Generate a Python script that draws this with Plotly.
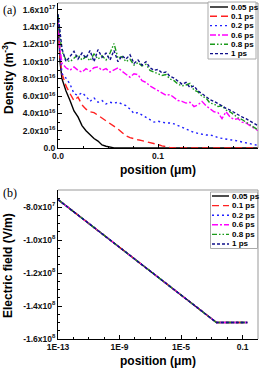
import plotly.graph_objects as go

W, H = 263, 368

# ---------------- data ----------------
series_names = ["0.05 ps", "0.1 ps", "0.2 ps", "0.6 ps", "0.8 ps", "1 ps"]
series_colors = ["#000000", "#ff2020", "#2020ff", "#ff00ff", "#1a9a1a", "#10108a"]
series_dashes = ["solid", "7px,4px", "2px,3px", "6px,2px,2px,2px",
                 "5px,2px,1.5px,2px,1.5px,2px", "3px,2px"]

# panel (a): position (um) and density (units of 1e16 m^-3)
position_a = [0, 0.001, 0.002, 0.004, 0.008, 0.012, 0.016, 0.020, 0.024, 0.028,
              0.032, 0.036, 0.040, 0.044, 0.048, 0.052, 0.056, 0.060, 0.064, 0.068,
              0.072, 0.076, 0.080, 0.084, 0.088, 0.092, 0.096, 0.100, 0.104, 0.108,
              0.112, 0.116, 0.120, 0.124, 0.128, 0.132, 0.136, 0.140, 0.144, 0.148,
              0.152, 0.156, 0.160, 0.164, 0.168, 0.172, 0.176, 0.180, 0.184, 0.188,
              0.192, 0.196, 0.200]

dens_005 = [15.0, 12.0, 10.0, 8.0, 6.6, 5.5, 4.3, 3.6, 2.6, 2.0,
            1.5, 1.1, 0.8, 0.35, 0.2, 0.08, 0.02, 0, 0, 0,
            0, 0, 0, 0, 0, 0, 0, 0, 0, 0,
            0, 0, 0, 0, 0, 0, 0, 0, 0, 0,
            0, 0, 0, 0, 0, 0, 0, 0, 0, 0,
            0, 0, 0]
dens_01 = [15.0, 12.5, 10.5, 8.6, 7.2, 6.3, 5.5, 5.9, 5.0, 4.5,
           4.2, 4.1, 3.8, 3.4, 3.1, 2.8, 2.5, 2.2, 1.8, 1.4,
           1.2, 1.05, 0.95, 0.85, 0.75, 0.6, 0.5, 0.4, 0.25, 0.12,
           0.06, 0.02, 0, 0, 0, 0, 0, 0, 0, 0,
           0, 0, 0, 0, 0, 0, 0, 0, 0, 0,
           0, 0, 0]
dens_02 = [15.0, 12.5, 10.8, 8.6, 8.1, 7.4, 6.3, 6.1, 6.4, 6.0,
           5.4, 5.8, 5.3, 5.5, 5.1, 5.3, 5.2, 5.3, 5.1, 4.9,
           4.5, 4.0, 4.1, 3.8, 3.6, 3.3, 3.0, 3.1, 3.0, 2.9,
           2.9, 2.8, 2.6, 2.4, 2.2, 2.0, 1.8, 1.7, 1.6, 1.5,
           1.5, 1.4, 1.2, 1.1, 1.0, 0.95, 0.9, 0.8, 0.65, 0.55,
           0.5, 0.4, 0.3]
dens_06 = [15.0, 13.5, 11.5, 9.8, 9.3, 9.0, 9.4, 9.0, 8.8, 9.2,
           8.9, 9.3, 9.4, 9.0, 9.2, 8.8, 9.1, 9.3, 8.9, 8.6,
           8.2, 8.6, 8.5, 7.8, 7.6, 7.2, 6.9, 6.7, 6.4, 6.1,
           6.2, 5.8, 5.5, 5.4, 5.2, 5.3, 4.8, 5.0, 5.4, 4.9,
           4.5, 4.2, 4.1, 3.4, 4.2, 3.6, 3.3, 3.4, 3.0, 2.9,
           2.6, 2.3, 2.0]
dens_08 = [15.5, 14.0, 12.8, 11.2, 10.2, 10.0, 10.4, 10.8, 10.2, 10.6,
           10.1, 10.9, 10.3, 10.7, 10.2, 11.0, 12.1, 10.4, 10.6, 10.0,
           10.3, 9.6, 9.9, 9.5, 9.7, 9.0, 8.8, 8.6, 8.4, 8.5,
           8.0, 7.8, 7.4, 7.2, 7.3, 7.5, 6.7, 6.5, 6.0, 5.8,
           5.2, 5.1, 4.8, 4.9, 4.4, 4.2, 3.8, 3.5, 3.3, 3.0,
           2.8, 2.4, 2.1]
dens_1 = [15.5, 14.5, 13.0, 11.5, 10.0, 10.6, 11.2, 10.3, 11.0, 10.4,
          11.3, 10.0, 11.4, 10.5, 11.0, 10.2, 11.3, 10.0, 10.7, 10.3,
          10.8, 9.8, 10.2, 9.6, 10.0, 9.3, 9.0, 9.1, 8.7, 8.8,
          8.3, 8.1, 7.8, 7.4, 7.6, 7.0, 7.2, 6.6, 6.3, 5.9,
          5.6, 5.4, 5.1, 4.9, 4.6, 4.4, 4.1, 3.9, 3.6, 3.4,
          3.1, 2.8, 2.6]
density_series = [dens_005, dens_01, dens_02, dens_06, dens_08, dens_1]
density_unit = 1e16

# panel (b): electric field vs position (log axis)
position_b = [1e-13, 2e-3, 0.2]
efield_b = [-7.55e7, -1.5e8, -1.5e8]

# tick labels
ya_vals = [0, 2e16, 4e16, 6e16, 8e16, 1e17, 1.2e17, 1.4e17, 1.6e17]
ya_text = ["0.0", "2.0x10<sup>16</sup>", "4.0x10<sup>16</sup>", "6.0x10<sup>16</sup>",
           "8.0x10<sup>16</sup>", "1.0x10<sup>17</sup>", "1.2x10<sup>17</sup>",
           "1.4x10<sup>17</sup>", "1.6x10<sup>17</sup>"]
xa_vals = [0, 0.1, 0.2]
xa_text = ["0.0", "0.1", "0.2"]
yb_vals = [-8e7, -1e8, -1.2e8, -1.4e8, -1.6e8]
yb_text = ["-8.0x10<sup>7</sup>", "-1.0x10<sup>8</sup>", "-1.2x10<sup>8</sup>",
           "-1.4x10<sup>8</sup>", "-1.6x10<sup>8</sup>"]
xb_vals = [1e-13, 1e-9, 1e-5, 0.1]
xb_text = ["1E-13", "1E-9", "1E-5", "0.1"]

# ---------------- figure ----------------
def px(x):
    return x / W

def py(y):
    return 1 - y / H

fig = go.Figure()

for name, col, dash, vals in zip(series_names, series_colors, series_dashes, density_series):
    fig.add_trace(go.Scatter(
        x=position_a, y=[v * density_unit for v in vals], mode="lines",
        name=name, line=dict(color=col, dash=dash, width=1.4),
        xaxis="x", yaxis="y", showlegend=False))

for name, col, dash in zip(series_names, series_colors, series_dashes):
    fig.add_trace(go.Scatter(
        x=position_b, y=efield_b, mode="lines", name=name,
        line=dict(color=col, dash=dash, width=1.4),
        xaxis="x2", yaxis="y2", showlegend=False))

tickfont = dict(family="Liberation Sans, Arial, sans-serif", size=8.5, color="#111", weight="bold")
common_axis = dict(showline=True, linecolor="#000", linewidth=1, ticks="inside",
                   ticklen=4, tickwidth=1, tickcolor="#000", showgrid=False,
                   zeroline=False, tickfont=tickfont, mirror=False, automargin=False)

fig.update_layout(
    template="none",
    width=W, height=H, margin=dict(l=0, r=0, t=0, b=0, pad=0),
    paper_bgcolor="white", plot_bgcolor="white",
    xaxis=dict(domain=[px(58), px(258)], anchor="y", range=[0, 0.2],
               tickvals=xa_vals, ticktext=xa_text,
               minor=dict(dtick=0.025, ticks="inside", ticklen=2, tickcolor="#000"),
               **common_axis),
    yaxis=dict(domain=[py(148), py(3)], anchor="x", range=[0, 1.68e17],
               tickvals=ya_vals, ticktext=ya_text,
               minor=dict(dtick=1e16, ticks="inside", ticklen=2, tickcolor="#000"),
               **common_axis),
    xaxis2=dict(domain=[px(58), px(258)], anchor="y2", type="log", range=[-13, 0],
                tickvals=xb_vals, ticktext=xb_text,
                minor=dict(dtick=1, ticks="inside", ticklen=2, tickcolor="#000"),
                **common_axis),
    yaxis2=dict(domain=[py(339), py(190)], anchor="x2", range=[-1.6e8, -6.97e7],
                tickvals=yb_vals, ticktext=yb_text,
                minor=dict(dtick=5e6, ticks="inside", ticklen=2, tickcolor="#000"),
                **common_axis),
)

shapes = []
# gray top/right frame lines
for xr, yr in (("x", "y"), ("x2", "y2")):
    shapes.append(dict(type="line", xref=f"{xr} domain", yref=f"{yr} domain",
                       x0=0, x1=1, y0=1, y1=1, line=dict(color="#999", width=1)))
    shapes.append(dict(type="line", xref=f"{xr} domain", yref=f"{yr} domain",
                       x0=1, x1=1, y0=0, y1=1, line=dict(color="#999", width=1)))

annotations = []
lab_font = dict(family="Liberation Sans, Arial, sans-serif", size=12, color="#000", weight="bold")
leg_font = dict(family="Liberation Sans, Arial, sans-serif", size=8, color="#000", weight="bold")

# manual legends
legend_specs = [
    dict(box=(208, 256, 2, 59), x0=210, x1=228, tx=229,
         rows=[7, 16.3, 25.6, 35, 44.3, 53.6]),
    dict(box=(210.5, 257.5, 192, 248.5), x0=212, x1=229, tx=230,
         rows=[196, 205.6, 215.2, 224.8, 234.4, 244]),
]
for spec in legend_specs:
    bx0, bx1, by0, by1 = spec["box"]
    shapes.append(dict(type="rect", xref="paper", yref="paper",
                       x0=px(bx0), x1=px(bx1), y0=py(by1), y1=py(by0),
                       line=dict(color="#aaa", width=1), fillcolor="white", layer="above"))
    for name, col, dash, ry in zip(series_names, series_colors, series_dashes, spec["rows"]):
        shapes.append(dict(type="line", xref="paper", yref="paper",
                           x0=px(spec["x0"]), x1=px(spec["x1"]), y0=py(ry), y1=py(ry),
                           line=dict(color=col, dash=dash, width=1.4), layer="above"))
        annotations.append(dict(text=name, xref="paper", yref="paper",
                                x=px(spec["tx"]), y=py(ry), xanchor="left", yanchor="middle",
                                showarrow=False, font=leg_font))

# axis titles and panel labels
annotations += [
    dict(text="Density (m<sup>-3</sup>)", xref="paper", yref="paper", x=px(8), y=py(78),
         textangle=-90, showarrow=False, font=lab_font, xanchor="center", yanchor="middle"),
    dict(text="position (\u03bcm)", xref="paper", yref="paper", x=px(158), y=py(170),
         showarrow=False, font=lab_font, xanchor="center", yanchor="middle"),
    dict(text="Electric field (V/m)", xref="paper", yref="paper", x=px(8), y=py(266),
         textangle=-90, showarrow=False, font=lab_font, xanchor="center", yanchor="middle"),
    dict(text="position (\u03bcm)", xref="paper", yref="paper", x=px(158), y=py(361),
         showarrow=False, font=lab_font, xanchor="center", yanchor="middle"),
    dict(text="(a)", xref="paper", yref="paper", x=px(1), y=py(10), xanchor="left",
         yanchor="middle", showarrow=False,
         font=dict(family="Liberation Serif, Times New Roman, serif", size=12, color="#000")),
    dict(text="(b)", xref="paper", yref="paper", x=px(1), y=py(193), xanchor="left",
         yanchor="middle", showarrow=False,
         font=dict(family="Liberation Serif, Times New Roman, serif", size=12, color="#000")),
]

fig.update_layout(shapes=shapes, annotations=annotations)
fig.write_html("out.html", config={"displayModeBar": False},
               post_script="document.body.style.margin='0';document.body.style.overflow='hidden';")
